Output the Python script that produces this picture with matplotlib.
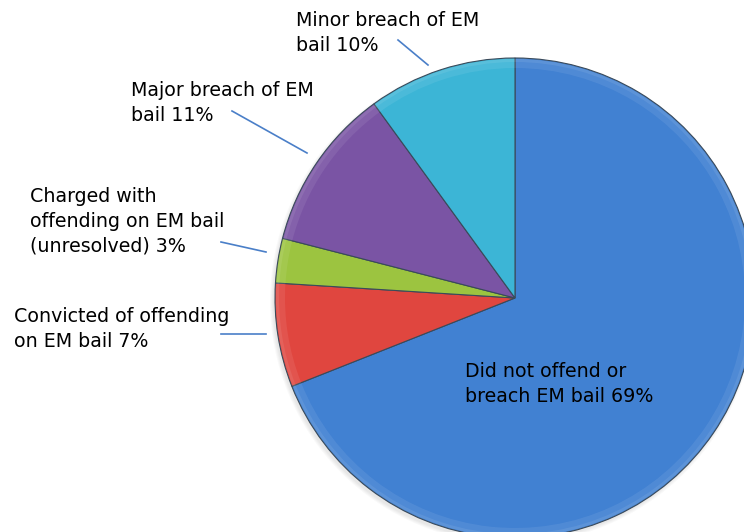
import matplotlib
matplotlib.use('Agg')
from matplotlib import pyplot as plt
from matplotlib.patches import Wedge

# slices, clockwise from 12 o'clock
labels = [
  'Did not offend or\nbreach EM bail 69%',
  'Convicted of offending\non EM bail 7%',
  'Charged with\noffending on EM bail\n(unresolved) 3%',
  'Major breach of EM\nbail 11%',
  'Minor breach of EM\nbail 10%',
]
shares = [69, 7, 3, 11, 10]
colors = ['#4181d2', '#e0463f', '#9cc440', '#7a54a4', '#3cb5d6']

W, H = 744, 532
CX, CY, R = 515, 298, 240


def py(y):
  # pixel rows run top-down, axes run bottom-up
  return H - y


fig = plt.figure(figsize=(W / 100, H / 100), dpi=100)
ax = fig.add_axes([0, 0, 1, 1])

# faint drop shadow under the pie
for k in range(4):
  ax.add_patch(plt.Circle((CX - 2, py(CY) - 3), R + 3 - k,
                          color='black', alpha=0.025, lw=0))

wedges, _ = ax.pie(shares, colors=colors, startangle=90, counterclock=False,
                   center=(CX, py(CY)), radius=R, frame=True,
                   wedgeprops=dict(edgecolor='#3a4a5a', linewidth=0.8))

# soft bevel along the rim of each slice
for w in wedges:
  ax.add_patch(Wedge(w.center, R - 1, w.theta1, w.theta2, width=9,
                     facecolor='white', alpha=0.08, lw=0))
  ax.add_patch(Wedge(w.center, R - 1, w.theta1, w.theta2, width=3,
                     facecolor='white', alpha=0.08, lw=0))

ax.set_xlim(0, W)
ax.set_ylim(0, H)
ax.set_aspect('equal')
ax.axis('off')

line_color = '#4a7fc8'
font = dict(fontsize=13.7, color='black', ha='left', va='top',
            linespacing=1.38, family='DejaVu Sans')

# label text positions (left, top) and leader lines
ax.text(465, py(362), labels[0], **font)

ax.text(14, py(307), labels[1], **font)
ax.plot([221, 266], [py(334), py(334)], color=line_color, lw=1.2)

ax.text(30, py(187), labels[2], **font)
ax.plot([221, 266], [py(242), py(252)], color=line_color, lw=1.2)

ax.text(131, py(81), labels[3], **font)
ax.plot([232, 307], [py(111), py(153)], color=line_color, lw=1.2)

ax.text(296, py(11), labels[4], **font)
ax.plot([398, 428], [py(40), py(65)], color=line_color, lw=1.2)

fig.savefig('out.png', dpi=100)
